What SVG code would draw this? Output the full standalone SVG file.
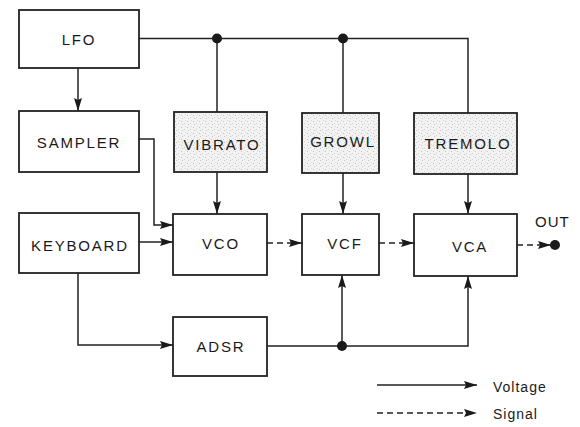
<svg xmlns="http://www.w3.org/2000/svg" width="580" height="427" viewBox="0 0 580 427">
<style>
  .box { fill: #ffffff; stroke: #222; stroke-width: 1.8; }
  .shade { fill: url(#stipple); stroke: #222; stroke-width: 1.8; }
  .lbl { font-family: "Liberation Sans", Arial, sans-serif; font-size: 15px; letter-spacing: 1.8px; fill: #1a1a1a; text-anchor: middle; }
  .leg { font-family: "Liberation Sans", Arial, sans-serif; font-size: 14px; letter-spacing: 1px; fill: #1a1a1a; }
  .wire { fill: none; stroke: #222; stroke-width: 1.5; }
  .arr { marker-end: url(#ah); }
  .dash { stroke-dasharray: 6 4; }
  .dot { fill: #1a1a1a; }
</style>
<defs>
  <pattern id="stipple" width="6" height="6" patternUnits="userSpaceOnUse">
    <rect width="6" height="6" fill="#f2f2f2"/>
    <rect x="1" y="1" width="1" height="1" fill="#c4c4c4"/>
    <rect x="4" y="3" width="1" height="1" fill="#d2d2d2"/>
    <rect x="2" y="4" width="1" height="1" fill="#c8c8c8"/>
    <rect x="5" y="0" width="1" height="1" fill="#dadada"/>
  </pattern>
  <marker id="ah" markerUnits="userSpaceOnUse" markerWidth="14" markerHeight="9" refX="13" refY="4.5" orient="auto">
    <path d="M0,0.5 L13,4.5 L0,8.5 L2,4.5 z" fill="#1a1a1a"/>
  </marker>
</defs>

<g id="connectors">
  <path class="wire arr" d="M78,68 V111"/>
  <path class="wire" d="M139,38.5 H468 V113"/>
  <path class="wire" d="M217,38.5 V112"/>
  <path class="wire" d="M343,38.5 V113"/>
  <path class="wire arr" d="M217,172 V214"/>
  <path class="wire arr" d="M343,173 V214"/>
  <path class="wire arr" d="M468,174 V214"/>
  <path class="wire arr" d="M139,139 H154 V225 H173"/>
  <path class="wire arr" d="M139,242 H173"/>
  <path class="wire arr" d="M78,273 V345 H173"/>
  <path class="wire dash arr" d="M267,243 H302"/>
  <path class="wire dash arr" d="M379,243 H414"/>
  <path class="wire dash arr" d="M517,245 H551"/>
  <path class="wire arr" d="M267,346 H468 V276"/>
  <path class="wire arr" d="M342,346 V275"/>
  <circle class="dot" cx="217" cy="38.5" r="5"/>
  <circle class="dot" cx="343" cy="38.5" r="5"/>
  <circle class="dot" cx="342" cy="346" r="5"/>
  <circle class="dot" cx="555" cy="245" r="5"/>
</g>

<g id="lfo"><rect class="box" x="19" y="10" width="120" height="58"/><text class="lbl" x="79" y="45">LFO</text></g>
<g id="sampler"><rect class="box" x="19" y="111" width="120" height="61"/><text class="lbl" x="79" y="148">SAMPLER</text></g>
<g id="keyboard"><rect class="box" x="19" y="213" width="120" height="60"/><text class="lbl" x="80" y="251">KEYBOARD</text></g>
<g id="vibrato"><rect class="shade" x="174" y="112" width="93" height="60"/><text class="lbl" x="222" y="150">VIBRATO</text></g>
<g id="growl"><rect class="shade" x="302" y="113" width="77" height="60"/><text class="lbl" x="343" y="147">GROWL</text></g>
<g id="tremolo"><rect class="shade" x="414" y="113" width="103" height="61"/><text class="lbl" x="468" y="149">TREMOLO</text></g>
<g id="vco"><rect class="box" x="173" y="214" width="94" height="61"/><text class="lbl" x="221" y="249">VCO</text></g>
<g id="vcf"><rect class="box" x="302" y="214" width="77" height="61"/><text class="lbl" x="345" y="249">VCF</text></g>
<g id="vca"><rect class="box" x="414" y="214" width="103" height="62"/><text class="lbl" x="470" y="252">VCA</text></g>
<g id="adsr"><rect class="box" x="173" y="317" width="94" height="59"/><text class="lbl" x="221" y="352">ADSR</text></g>
<g id="out"><text class="leg" x="535" y="227" style="font-size:15px">OUT</text></g>

<g id="legend">
  <path class="wire arr" d="M377,385 H477"/>
  <text class="leg" x="493" y="392">Voltage</text>
  <path class="wire dash arr" d="M377,413 H477"/>
  <text class="leg" x="493" y="419">Signal</text>
</g>
</svg>
